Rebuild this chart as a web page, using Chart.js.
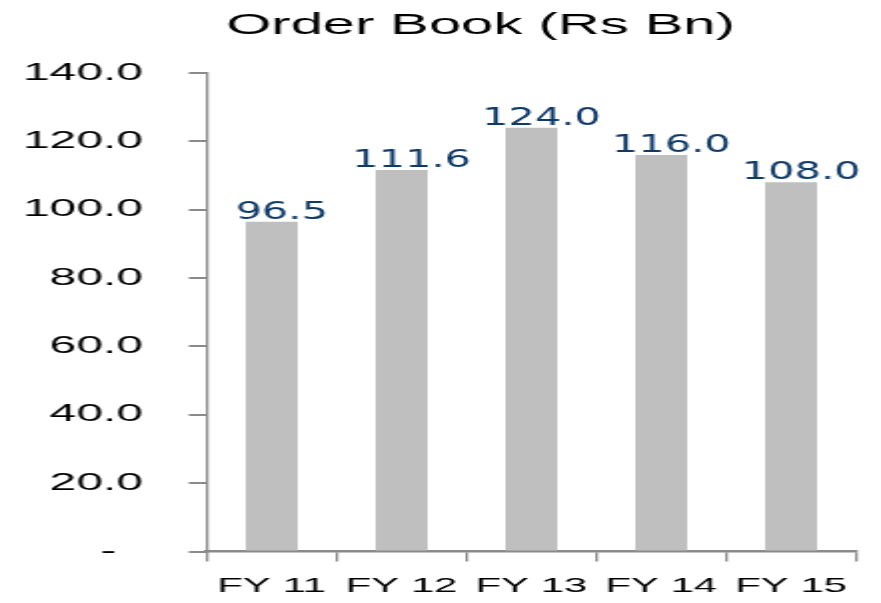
<!DOCTYPE html>
<html>
<head>
<meta charset="utf-8">
<script src="https://cdn.jsdelivr.net/npm/chart.js@4/dist/chart.umd.min.js"></script>
<style>
  html, body { margin: 0; padding: 0; background: #ffffff; overflow: hidden; }
  #wrap { width: 441px; height: 603px; transform: scaleX(1.9977); transform-origin: 0 0; }
  canvas { display: block; }
</style>
</head>
<body>
<div id="wrap"><canvas id="c" width="441" height="603"></canvas></div>
<script>
const chartTitle = 'Order Book (Rs Bn)';
const categories = ['FY 11', 'FY 12', 'FY 13', 'FY 14', 'FY 15'];
const orderBook = [96.5, 111.6, 124.0, 116.0, 108.0];
const yTickValues = [0, 20, 40, 60, 80, 100, 120, 140];
const yTickLabels = ['-', '20.0', '40.0', '60.0', '80.0', '100.0', '120.0', '140.0'];

const AXIS = '#8a8a8a';

const titlePlugin = {
  id: 'customTitle',
  afterDraw(chart) {
    const ctx = chart.ctx;
    ctx.save();
    ctx.font = '29px "Liberation Sans", Arial, sans-serif';
    ctx.fillStyle = '#000000';
    ctx.textAlign = 'center';
    ctx.textBaseline = 'alphabetic';
    ctx.fillText(chartTitle, 240.5, 33.5);
    ctx.restore();
  }
};

const valueLabels = {
  id: 'valueLabels',
  afterDatasetsDraw(chart) {
    const ctx = chart.ctx;
    const meta = chart.getDatasetMeta(0);
    meta.data.forEach((bar, i) => {
      ctx.save();
      ctx.translate(bar.x + 5, bar.y - 3);
      ctx.scale(0.83, 1);
      ctx.font = '25px "DejaVu Sans", sans-serif';
      ctx.fillStyle = '#0F3A68';
      ctx.textAlign = 'center';
      ctx.textBaseline = 'alphabetic';
      ctx.fillText(orderBook[i].toFixed(1), 0, 0);
      ctx.restore();
    });
  }
};

new Chart(document.getElementById('c'), {
  type: 'bar',
  data: {
    labels: categories,
    datasets: [{
      data: orderBook,
      backgroundColor: '#BFBFBF',
      borderWidth: 0,
      barPercentage: 0.4,
      categoryPercentage: 1.0
    }]
  },
  options: {
    responsive: false,
    animation: false,
    devicePixelRatio: 1,
    layout: { padding: { top: 73, right: 12.5, left: 0, bottom: 0 } },
    plugins: {
      legend: { display: false },
      title: { display: false },
      tooltip: { enabled: false }
    },
    scales: {
      x: {
        offset: true,
        grid: {
          display: true,
          offset: true,
          drawOnChartArea: false,
          drawTicks: true,
          tickLength: 10,
          color: AXIS,
          lineWidth: 1.3
        },
        border: { display: true, color: AXIS, width: 2.5 },
        ticks: {
          color: '#000000',
          font: { family: '"Liberation Sans", Arial, sans-serif', size: 21 },
          padding: 12.5,
          maxRotation: 0,
          minRotation: 0,
          autoSkip: false
        },
        afterFit(scale) { scale.height = 51.5; }
      },
      y: {
        min: 0,
        max: 140,
        grid: {
          display: true,
          drawOnChartArea: false,
          drawTicks: true,
          tickLength: 9,
          color: AXIS,
          lineWidth: 2
        },
        border: { display: true, color: AXIS, width: 1.3 },
        ticks: {
          stepSize: 20,
          color: '#000000',
          font: { family: '"Liberation Sans", Arial, sans-serif', size: 24 },
          padding: 23,
          callback(value) {
            const i = yTickValues.indexOf(value);
            if (i < 0) return '';
            return value === 0 ? yTickLabels[i] + '  ' : yTickLabels[i];
          }
        },
        afterFit(scale) { scale.width = 103.5; }
      }
    }
  },
  plugins: [titlePlugin, valueLabels]
});
</script>
</body>
</html>
